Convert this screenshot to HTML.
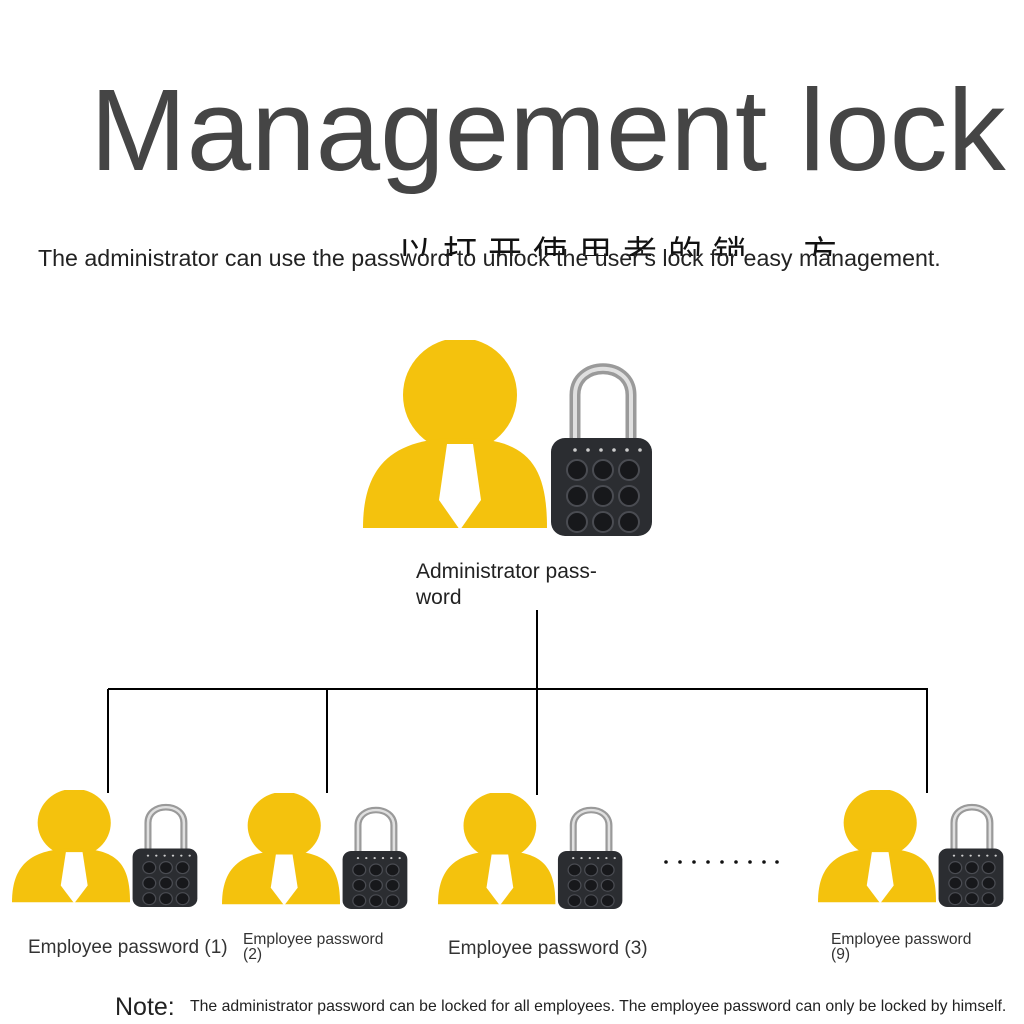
<!DOCTYPE html>
<html><head><meta charset="utf-8"><style>
body{margin:0;width:1024px;height:1024px;background:#fff;position:relative;overflow:hidden;font-family:"Liberation Sans",Arial,sans-serif}
.a{position:absolute;white-space:nowrap}
</style></head><body>
<svg width="0" height="0" style="position:absolute">
<defs>
<symbol id="pl" viewBox="0 0 290 196" preserveAspectRatio="none">
<circle cx="97" cy="55" r="57" fill="#f4c20d"/>
<path d="M0,188 C0,125 30,98 97,98 C165,98 184,125 184,188 Z" fill="#f4c20d"/>
<path d="M84,104 L110,104 L118,160 L97,190 L76,160 Z" fill="#fff"/>
<path d="M212,100 L212,55 C212,20 268,20 268,55 L268,100" fill="none" stroke="#9a9a9a" stroke-width="11"/>
<path d="M212,100 L212,55 C212,20 268,20 268,55 L268,100" fill="none" stroke="#e0e0e0" stroke-width="4"/>
<rect x="188" y="98" width="101" height="98" rx="14" fill="#2b2d31"/>
<g fill="#ccc"><circle cx="212" cy="110" r="1.8"/><circle cx="225" cy="110" r="1.8"/><circle cx="238" cy="110" r="1.8"/><circle cx="251" cy="110" r="1.8"/><circle cx="264" cy="110" r="1.8"/><circle cx="277" cy="110" r="1.8"/></g>
<g fill="#17181b" stroke="#4a4c52" stroke-width="2">
<circle cx="214" cy="130" r="10"/><circle cx="240" cy="130" r="10"/><circle cx="266" cy="130" r="10"/>
<circle cx="214" cy="156" r="10"/><circle cx="240" cy="156" r="10"/><circle cx="266" cy="156" r="10"/>
<circle cx="214" cy="182" r="10"/><circle cx="240" cy="182" r="10"/><circle cx="266" cy="182" r="10"/>
</g>
</symbol>
</defs></svg>

<div class="a" style="left:90px;top:72px;font-size:116px;color:#454545;line-height:1">Management lock</div>
<div class="a" style="left:398px;top:234px;height:22px;overflow:hidden;font-family:'Liberation Sans','Noto Sans CJK SC',sans-serif;font-size:34px;letter-spacing:11px;color:#111;line-height:1.2">以打开使用者的锁，方</div>
<div class="a" style="left:38px;top:245px;font-size:23.2px;color:#222">The administrator can use the password to unlock the user's lock for easy management.</div>

<svg class="a" style="left:363px;top:340px" width="290" height="196"><use href="#pl"/></svg>
<div class="a" style="left:416px;top:559px;font-size:21px;color:#222;line-height:26px;white-space:normal;width:220px">Administrator pass-<br>word</div>

<svg class="a" style="left:0;top:0" width="1024" height="1024">
<g stroke="#000" stroke-width="2" fill="none">
<line x1="537" y1="610" x2="537" y2="795"/>
<line x1="108" y1="689" x2="928" y2="689"/>
<line x1="108" y1="689" x2="108" y2="793"/>
<line x1="327" y1="689" x2="327" y2="793"/>
<line x1="927" y1="689" x2="927" y2="793"/>
</g>
<g fill="#111"><circle cx="666" cy="862" r="1.8"/><circle cx="680" cy="862" r="1.8"/><circle cx="694" cy="862" r="1.8"/><circle cx="708" cy="862" r="1.8"/><circle cx="722" cy="862" r="1.8"/><circle cx="736" cy="862" r="1.8"/><circle cx="750" cy="862" r="1.8"/><circle cx="764" cy="862" r="1.8"/><circle cx="777" cy="862" r="1.8"/></g>
</svg>

<svg class="a" style="left:12px;top:790px" width="186" height="117" viewBox="0 0 290 196" preserveAspectRatio="none"><use href="#pl"/></svg>
<svg class="a" style="left:222px;top:793px" width="186" height="116" viewBox="0 0 290 196" preserveAspectRatio="none"><use href="#pl"/></svg>
<svg class="a" style="left:438px;top:793px" width="185" height="116" viewBox="0 0 290 196" preserveAspectRatio="none"><use href="#pl"/></svg>
<svg class="a" style="left:818px;top:790px" width="186" height="117" viewBox="0 0 290 196" preserveAspectRatio="none"><use href="#pl"/></svg>

<div class="a" style="left:28px;top:937px;font-size:19px;color:#333">Employee password (1)</div>
<div class="a" style="left:243px;top:932px;font-size:15.6px;color:#333;line-height:15px">Employee password<br>(2)</div>
<div class="a" style="left:448px;top:938px;font-size:19px;color:#333">Employee password (3)</div>
<div class="a" style="left:831px;top:932px;font-size:15.6px;color:#333;line-height:15px">Employee password<br>(9)</div>

<div class="a" style="left:115px;top:993px;font-size:25px;color:#222">Note:</div>
<div class="a" style="left:190px;top:998px;font-size:15.8px;color:#222">The administrator password can be locked for all employees. The employee password can only be locked by himself.</div>
</body></html>
